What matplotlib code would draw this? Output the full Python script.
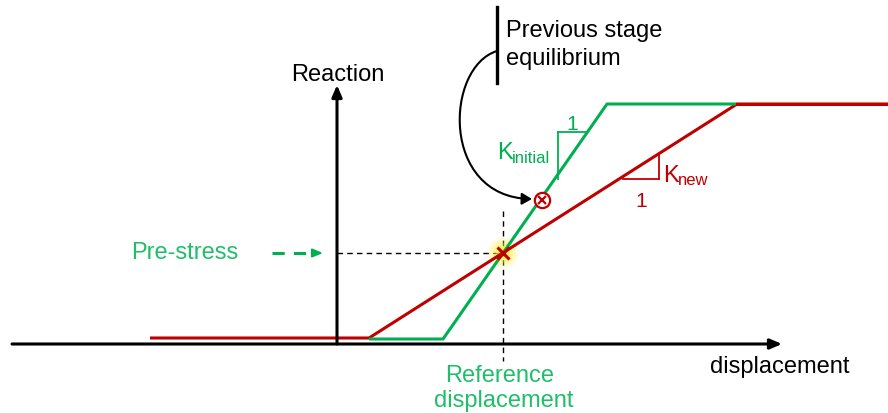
import matplotlib
matplotlib.use("Agg")
import matplotlib.pyplot as plt
from matplotlib.patches import FancyArrowPatch, Circle
from matplotlib.path import Path

plt.rcParams['font.family'] = ['Liberation Sans', 'DejaVu Sans']

# ---- data (diagram units = pixels, y downward) ----
red_x = [150, 369, 737, 888]
red_y = [339, 339, 105, 105]
green_x = [369, 443, 607, 737]
green_y = [340, 340, 105, 105]
cross_pt = (503, 254)
prev_pt = (542, 201)
xaxis_y = 345
yaxis_x = 337

GREEN = '#00b050'
RED = '#c00000'
TGREEN = '#1fbf6a'

fig = plt.figure(figsize=(8.88, 4.14), dpi=100)
ax = fig.add_axes([0, 0, 1, 1])
ax.set_xlim(0, 888)
ax.set_ylim(414, 0)
ax.axis('off')

# curves
ax.plot(red_x, red_y, color=RED, lw=2.2, solid_capstyle='butt', zorder=3)
ax.plot(green_x, green_y, color=GREEN, lw=2.2, solid_capstyle='butt', zorder=3)
ax.plot([red_x[2], red_x[3]], [red_y[2], red_y[3]], color=RED, lw=2.2, zorder=4)

# axes arrows
ax.annotate('', xy=(782, xaxis_y), xytext=(12, xaxis_y),
            arrowprops=dict(arrowstyle='-|>,head_length=0.7,head_width=0.3', color='black', lw=2.2,
                            shrinkA=0, shrinkB=0), zorder=5)
ax.annotate('', xy=(yaxis_x, 86), xytext=(yaxis_x, xaxis_y),
            arrowprops=dict(arrowstyle='-|>,head_length=0.7,head_width=0.3', color='black', lw=2.2,
                            shrinkA=0, shrinkB=0), zorder=5)

# dashed guide lines
ax.plot([yaxis_x, cross_pt[0]], [cross_pt[1], cross_pt[1]], color='black', lw=1.0,
        dashes=(4, 3), zorder=2)
ax.plot([cross_pt[0], cross_pt[0]], [212, 362], color='black', lw=1.0,
        dashes=(4, 3), zorder=2)

# green dashed arrow to pre-stress
ax.plot([272, 312], [254, 254], color=GREEN, lw=2.2, dashes=(4, 3))
ax.annotate('', xy=(323, 254), xytext=(312, 254),
            arrowprops=dict(arrowstyle='-|>,head_length=0.6,head_width=0.25', color=GREEN, lw=1.5,
                            shrinkA=0, shrinkB=0))

# glow at crossing
for r, a in [(16, 0.12), (13, 0.2), (10, 0.3), (7, 0.45), (4, 0.6)]:
    ax.add_patch(Circle(cross_pt, r, color='#ffee33', alpha=a, lw=0, zorder=2.5))
ax.plot(*cross_pt, marker='x', color=RED, ms=8, mew=2.2, zorder=6)

# previous equilibrium marker
ax.plot(*prev_pt, marker='o', mfc='white', mec=RED, ms=11, mew=1.6, zorder=6)
ax.plot(*prev_pt, marker='x', color=RED, ms=6, mew=1.6, zorder=7)

# vertical bar + curved arrow
ax.plot([497, 497], [8, 84], color='black', lw=2.4)
arc = Path([(497, 52), (445, 68), (440, 198), (532, 200)],
           [Path.MOVETO, Path.CURVE4, Path.CURVE4, Path.CURVE4])
ax.add_patch(FancyArrowPatch(path=arc, arrowstyle='-|>,head_length=6,head_width=3.5',
                             color='black', lw=1.5, zorder=5))

# slope triangles
ax.plot([558, 588], [133, 133], color=GREEN, lw=1.3)
ax.plot([558, 558], [133, 180], color=GREEN, lw=1.3)
ax.plot([623, 659], [180, 180], color=RED, lw=1.3)
ax.plot([659, 659], [180, 156], color=RED, lw=1.3)

FS = 17
ax.text(572, 130, '1', color=GREEN, fontsize=FS - 2, ha='center', va='baseline')
ax.text(497, 159, 'K', color=GREEN, fontsize=FS, ha='left', va='baseline')
ax.text(512, 163, 'initial', color=GREEN, fontsize=FS - 5, ha='left', va='baseline')
ax.text(641, 207, '1', color=RED, fontsize=FS - 2, ha='center', va='baseline')
ax.text(663, 182, 'K', color=RED, fontsize=FS, ha='left', va='baseline')
ax.text(678, 185, 'new', color=RED, fontsize=FS - 5, ha='left', va='baseline')

ax.text(338, 81, 'Reaction', color='black', fontsize=FS, ha='center', va='baseline')
ax.text(506, 37, 'Previous stage', color='black', fontsize=FS, ha='left', va='baseline')
ax.text(506, 65, 'equilibrium', color='black', fontsize=FS, ha='left', va='baseline')
ax.text(131, 259, 'Pre-stress', color=TGREEN, fontsize=FS, ha='left', va='baseline')
ax.text(710, 373, 'displacement', color='black', fontsize=FS, ha='left', va='baseline')
ax.text(500, 382, 'Reference', color=TGREEN, fontsize=FS, ha='center', va='baseline')
ax.text(504, 407, 'displacement', color=TGREEN, fontsize=FS, ha='center', va='baseline')

fig.savefig('out.png', dpi=100)
